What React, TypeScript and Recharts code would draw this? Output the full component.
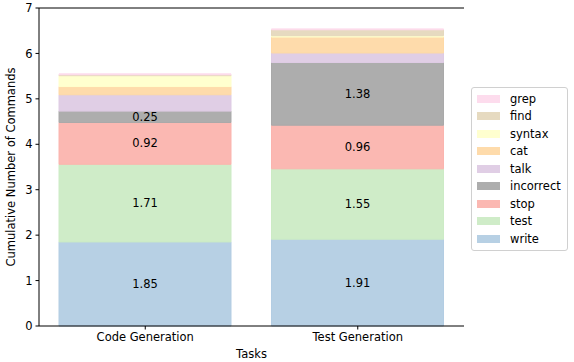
import React from "react";
import {
  BarChart,
  Bar,
  XAxis,
  YAxis,
  LabelList,
  ReferenceLine,
} from "recharts";

const categories = ["Code Generation", "Test Generation"];

const write = [1.85, 1.91];
const test = [1.71, 1.55];
const stop = [0.92, 0.96];
const incorrect = [0.25, 1.38];
const talk = [0.36, 0.21];
const cat = [0.18, 0.35];
const syntax = [0.24, 0.03];
const find = [0.02, 0.13];
const grep = [0.02, 0.02];

const yTicks = [0, 1, 2, 3, 4, 5, 6, 7];

// bottom to top
const SERIES = [
  { key: "write", values: write, color: "#b3cde3", label: true },
  { key: "test", values: test, color: "#ccebc5", label: true },
  { key: "stop", values: stop, color: "#fbb4ae", label: true },
  { key: "incorrect", values: incorrect, color: "#a9a9a9", label: true },
  { key: "talk", values: talk, color: "#decbe4", label: false },
  { key: "cat", values: cat, color: "#fed9a6", label: false },
  { key: "syntax", values: syntax, color: "#ffffcc", label: false },
  { key: "find", values: find, color: "#e5d8bd", label: false },
  { key: "grep", values: grep, color: "#fddaec", label: false },
];

const data = categories.map((task, i) => {
  const row: Record<string, string | number> = { task };
  SERIES.forEach((s) => {
    row[s.key] = s.values[i];
  });
  return row;
});

const FONT = "DejaVu Sans, sans-serif";

// legend sits outside the plot, like matplotlib's bbox_to_anchor
function ChartLegend() {
  return (
    <div
      style={{
        position: "absolute",
        left: 471,
        top: 87,
        width: 84,
        border: "1px solid #d0d0d0",
        borderRadius: 3,
        background: "#fff",
        padding: "2px 6px 2px 5px",
        fontFamily: FONT,
        fontSize: 11.5,
        color: "#000",
      }}
    >
      {[...SERIES].reverse().map((s) => (
        <div
          key={s.key}
          style={{ display: "flex", alignItems: "center", height: 17.5 }}
        >
          <span
            style={{
              display: "inline-block",
              width: 23,
              height: 8,
              background: s.color,
              marginRight: 10,
              opacity: 0.95,
            }}
          />
          {s.key}
        </div>
      ))}
    </div>
  );
}

export default function App() {
  return (
    <div
      style={{
        position: "absolute",
        left: 0,
        top: 0,
        width: 574,
        height: 362,
        background: "#fff",
      }}
    >
      <BarChart
        width={574}
        height={362}
        data={data}
        margin={{ top: 8, right: 110, bottom: 0, left: 0 }}
        barSize={172}
      >
        <XAxis
          dataKey="task"
          height={36}
          tickSize={3.5}
          tickMargin={3}
          stroke="#000"
          tick={{ fill: "#000", fontSize: 11.5, fontFamily: FONT }}
          label={{
            value: "Tasks",
            position: "insideBottom",
            offset: 4,
            fill: "#000",
            fontSize: 11.5,
            fontFamily: FONT,
          }}
        />
        <YAxis
          yAxisId="left"
          domain={[0, 7]}
          ticks={yTicks}
          width={39}
          tickSize={3.5}
          tickMargin={3}
          stroke="#000"
          interval={0}
          tick={{ fill: "#000", fontSize: 11.5, fontFamily: FONT }}
          label={{
            value: "Cumulative Number of Commands",
            angle: -90,
            position: "insideLeft",
            offset: 0,
            dx: 11,
            style: { textAnchor: "middle" },
            fill: "#000",
            fontSize: 11.5,
            fontFamily: FONT,
          }}
        />
        <YAxis
          yAxisId="right"
          orientation="right"
          domain={[0, 7]}
          width={0}
          tick={false}
          tickLine={false}
          stroke="#000"
        />
        <ReferenceLine yAxisId="left" y={7} stroke="#000" strokeWidth={1} />
        {SERIES.map((s) => (
          <Bar
            key={s.key}
            yAxisId="left"
            dataKey={s.key}
            stackId="a"
            fill={s.color}
            fillOpacity={0.95}
            stroke={s.color}
            isAnimationActive={false}
          >
            {s.label && (
              <LabelList
                dataKey={s.key}
                position="center"
                formatter={(v: number) => Number(v).toFixed(2)}
                fill="#000"
                fontSize={11.5}
                fontFamily={FONT}
              />
            )}
          </Bar>
        ))}
      </BarChart>
      <ChartLegend />
    </div>
  );
}
